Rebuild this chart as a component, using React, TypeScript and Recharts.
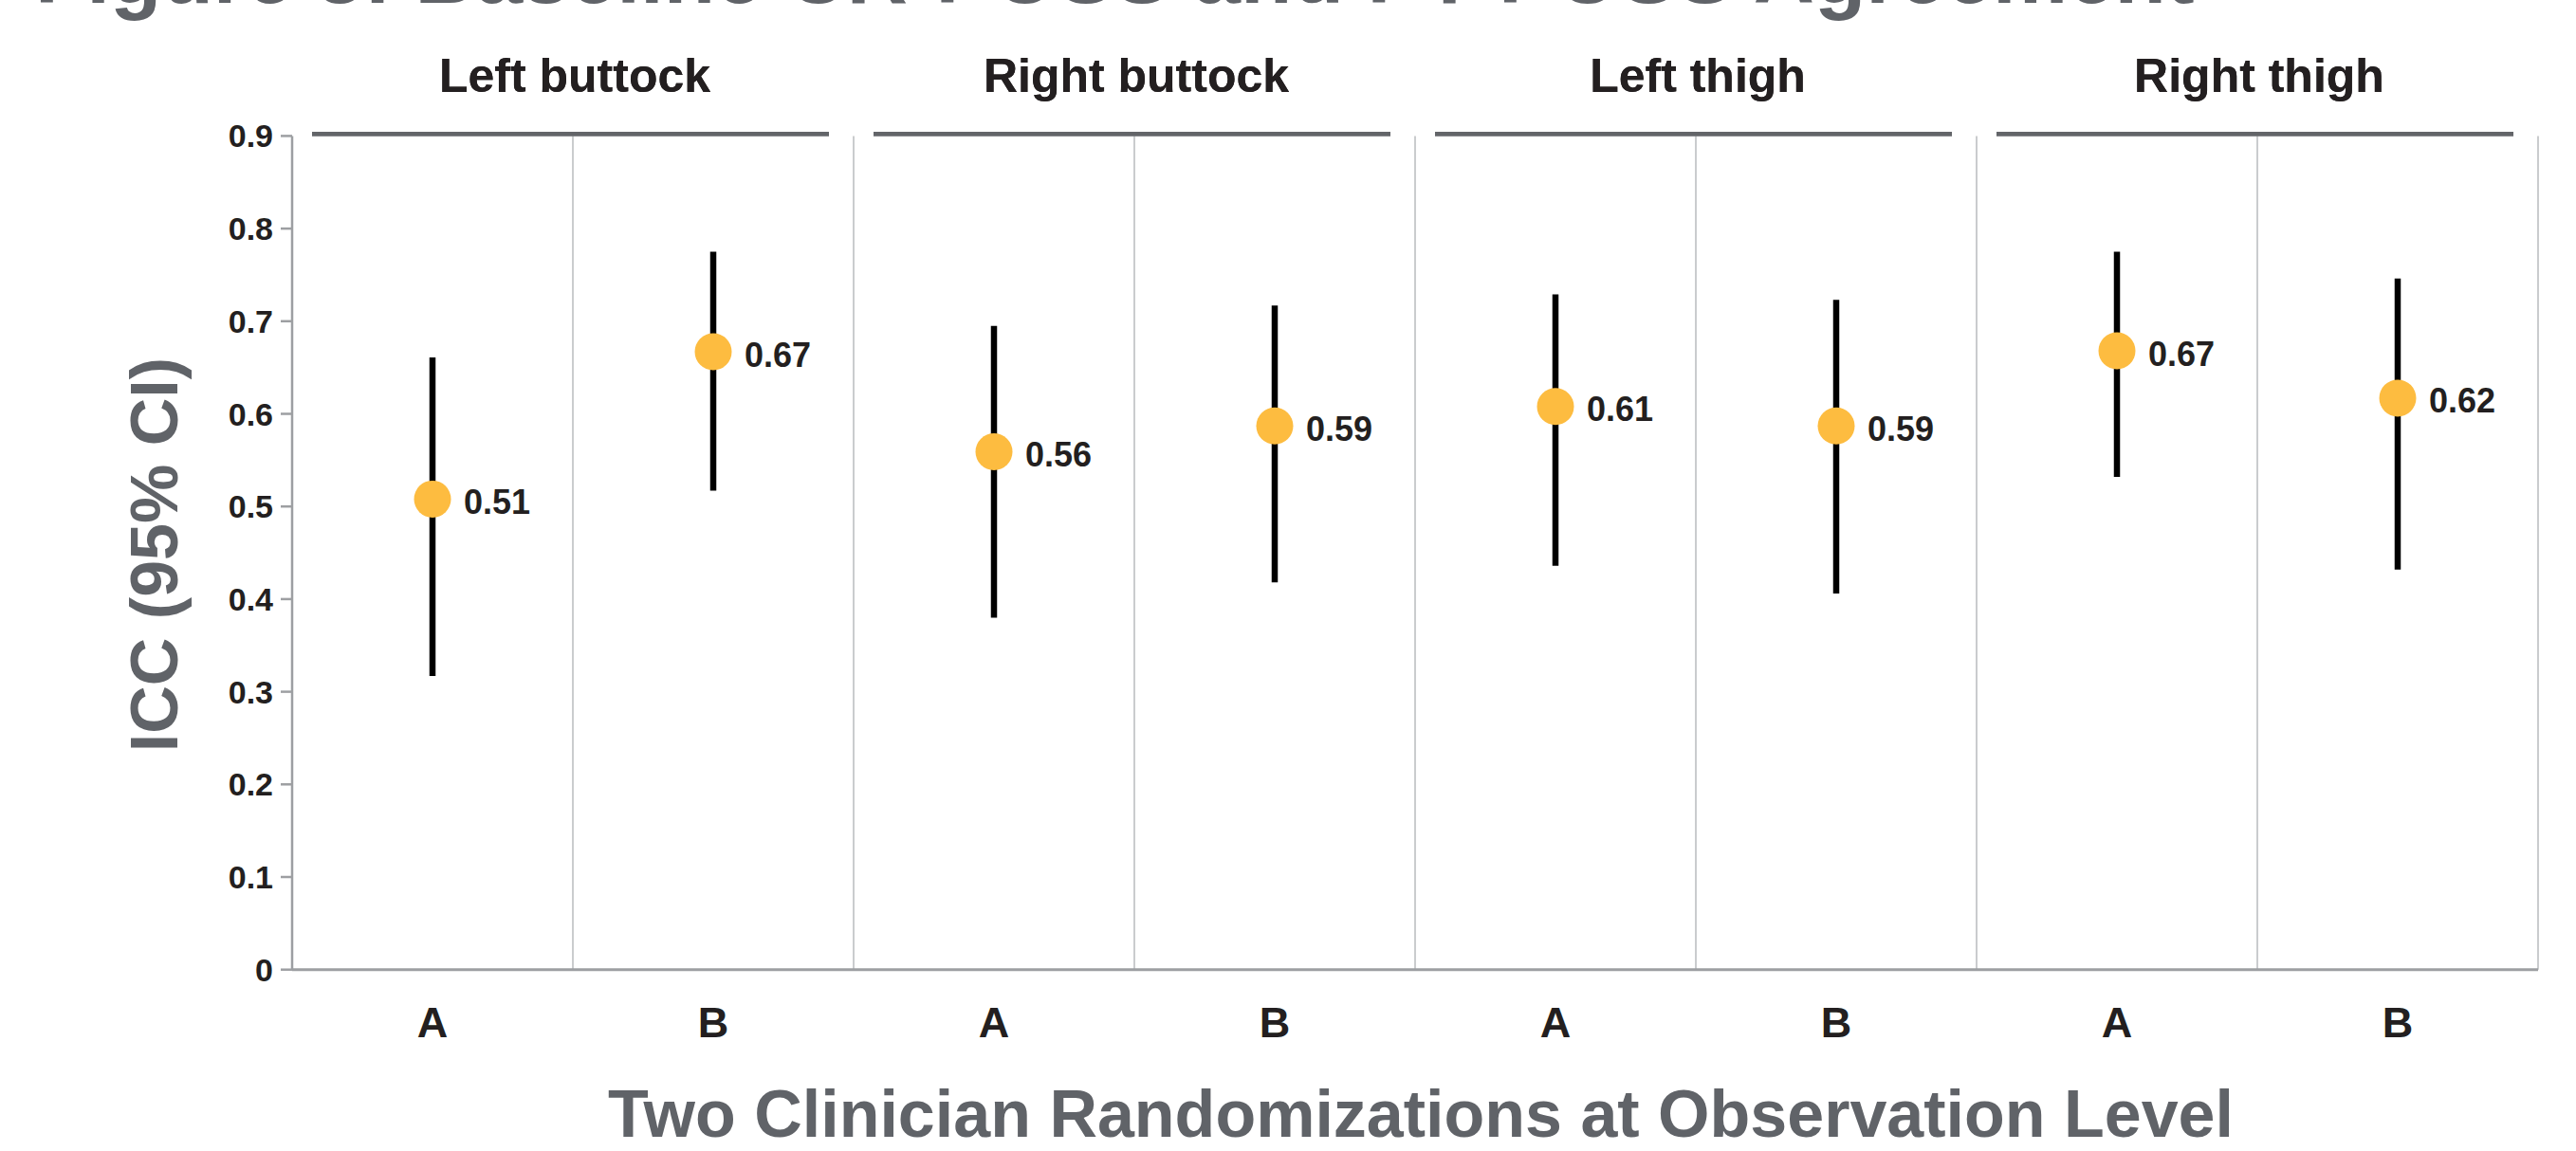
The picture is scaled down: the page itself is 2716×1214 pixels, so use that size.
import React from 'react';
import {
  ComposedChart,
  Scatter,
  ErrorBar,
  XAxis,
  YAxis,
  ReferenceLine,
} from 'recharts';

// facet panels and the two randomizations inside each one
const panels = ['Left buttock', 'Right buttock', 'Left thigh', 'Right thigh'];
const groups = ['A', 'B'];

// ICC point estimate and 95% CI, in panel order (A then B)
const icc = [0.508, 0.667, 0.559, 0.587, 0.608, 0.587, 0.668, 0.617];
const lower = [0.317, 0.517, 0.38, 0.418, 0.436, 0.406, 0.532, 0.432];
const upper = [0.661, 0.775, 0.695, 0.717, 0.729, 0.723, 0.775, 0.746];

const yTicks = [0, 0.1, 0.2, 0.3, 0.4, 0.5, 0.6, 0.7, 0.8, 0.9];

const TITLE = 'Figure 3: Baseline CR-POSS and PT-POSS Agreement';
const X_TITLE = 'Two Clinician Randomizations at Observation Level';
const Y_TITLE = 'ICC (95% CI)';

const data = icc.map((v, i) => {
  const panel = panels[Math.floor(i / groups.length)];
  const group = groups[i % groups.length];
  return {
    key: `${panel}|${group}`,
    panel,
    group,
    icc: v,
    ci: [v - lower[i], upper[i] - v],
  };
});

const FONT = '"Liberation Sans", Arial, Helvetica, sans-serif';
const DARK = '#231F20';
const GREY_TEXT = '#606368';
const AXIS = '#9d9fa2';

const CHART_W = 2716;
const CHART_H = 1214;
const PLOT_LEFT = 308;
const PLOT_RIGHT = 40;
const PLOT_TOP = 143.4;
const PLOT_BOTTOM = 191.3;
const PANEL_W = (CHART_W - PLOT_LEFT - PLOT_RIGHT) / panels.length;

const PointWithLabel = (props: any) => {
  const { cx, cy, payload } = props;
  if (cx == null || cy == null) return null;
  return (
    <g>
      <circle cx={cx} cy={cy} r={19.5} fill="#FDBC40" />
      <text
        x={cx + 33}
        y={cy + 15.5}
        fontFamily={FONT}
        fontWeight={700}
        fontSize={36}
        fill={DARK}
      >
        {payload.icc.toFixed(2)}
      </text>
    </g>
  );
};

const PanelTick = (props: any) => {
  const { x, y, payload } = props;
  return (
    <g>
      <text
        x={x + 2}
        y={y - 46}
        textAnchor="middle"
        fontFamily={FONT}
        fontWeight={700}
        fontSize={50}
        fill={DARK}
      >
        {payload.value}
      </text>
      <line
        x1={x - PANEL_W / 2 + 21}
        x2={x + PANEL_W / 2 - 26}
        y1={y - 2.2}
        y2={y - 2.2}
        stroke="#636569"
        strokeWidth={4.5}
      />
    </g>
  );
};

const XTitle = (props: any) => {
  const { viewBox } = props;
  if (!viewBox) return null;
  return (
    <text
      x={viewBox.x + viewBox.width / 2 + 6}
      y={viewBox.y + 176}
      textAnchor="middle"
      fontFamily={FONT}
      fontWeight={700}
      fontSize={70}
      fill={GREY_TEXT}
    >
      {X_TITLE}
    </text>
  );
};

const YTitle = (props: any) => {
  const { viewBox } = props;
  if (!viewBox) return null;
  const cx = viewBox.x + 187;
  const cy = viewBox.y + viewBox.height / 2 + 2;
  return (
    <text
      x={cx}
      y={cy}
      transform={`rotate(-90 ${cx} ${cy})`}
      textAnchor="middle"
      fontFamily={FONT}
      fontWeight={700}
      fontSize={70}
      fill={GREY_TEXT}
    >
      {Y_TITLE}
    </text>
  );
};

const App: React.FC = () => {
  return (
    <div style={{ position: 'absolute', left: 0, top: 0, width: CHART_W, height: CHART_H, background: '#fff' }}>
      <ComposedChart
        width={CHART_W}
        height={CHART_H}
        data={data}
        margin={{ top: 0, right: PLOT_RIGHT, bottom: 0, left: 0 }}
      >
        <text x={37} y={3} fontFamily={FONT} fontWeight={700} fontSize={89} fill={GREY_TEXT}>
          {TITLE}
        </text>

        <XAxis
          dataKey="key"
          scale="band"
          height={PLOT_BOTTOM}
          interval={0}
          tickSize={0}
          tickMargin={39}
          tickLine={false}
          axisLine={{ stroke: AXIS, strokeWidth: 3 }}
          tick={{ fill: DARK, fontSize: 45, fontWeight: 700, fontFamily: FONT }}
          tickFormatter={(k: string) => k.split('|')[1]}
          label={{ content: XTitle }}
        />
        <XAxis
          xAxisId="panel"
          dataKey="panel"
          scale="band"
          orientation="top"
          allowDuplicatedCategory={false}
          height={PLOT_TOP}
          interval={0}
          tickSize={0}
          tickMargin={0}
          tickLine={false}
          axisLine={false}
          tick={<PanelTick />}
        />
        <YAxis
          domain={[0, 0.9]}
          ticks={yTicks}
          interval={0}
          width={PLOT_LEFT}
          tickSize={12}
          tickMargin={8}
          axisLine={{ stroke: AXIS, strokeWidth: 2.5 }}
          tickLine={{ stroke: AXIS, strokeWidth: 2.5 }}
          tick={{ fill: DARK, fontSize: 34, fontWeight: 700, fontFamily: FONT }}
          tickFormatter={(v: number) => (v === 0 ? '0' : v.toFixed(1))}
          label={{ content: YTitle }}
        />

        {data.map((d) => (
          <ReferenceLine
            key={d.key}
            x={d.key}
            position="end"
            stroke="#b9bbbe"
            strokeWidth={1.5}
          />
        ))}

        <Scatter dataKey="icc" shape={<PointWithLabel />} isAnimationActive={false}>
          <ErrorBar
            dataKey="ci"
            direction="y"
            width={0}
            stroke="#000"
            strokeWidth={6.5}
            isAnimationActive={false}
          />
        </Scatter>
      </ComposedChart>
    </div>
  );
};

export default App;
